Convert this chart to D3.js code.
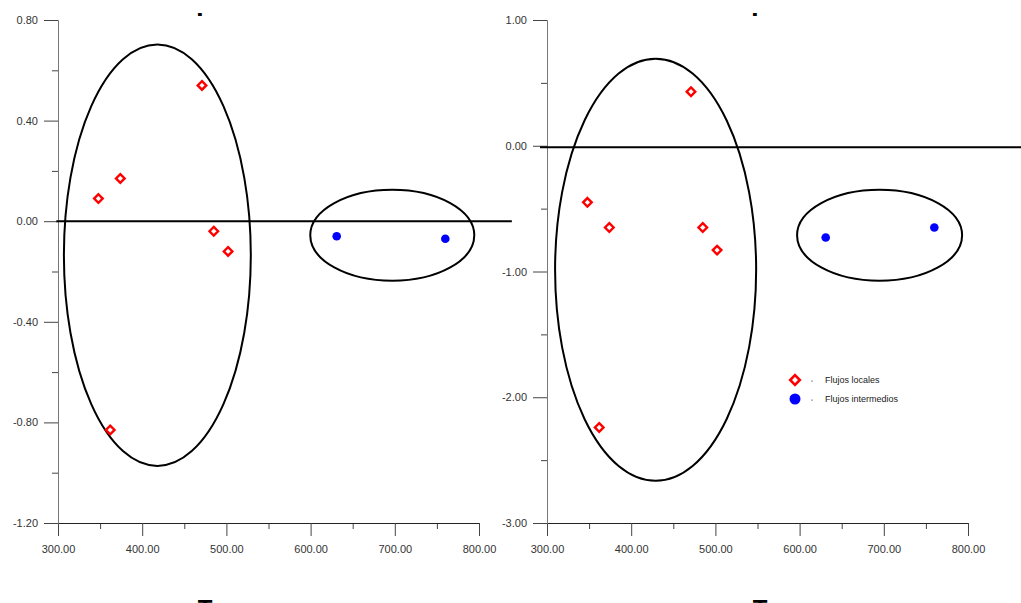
<!DOCTYPE html>
<html><head><meta charset="utf-8">
<script src="https://cdn.jsdelivr.net/npm/d3@7"></script>
<style>
html,body{margin:0;padding:0;background:#fff;overflow:hidden}
svg{display:block}
text{font-family:"Liberation Sans",Arial,sans-serif}
</style></head><body>
<script>
// ---- data ----
const localX = [348, 374, 471, 485, 502, 362];
const localYLeft = [0.09, 0.17, 0.54, -0.04, -0.12, -0.83];
const localYRight = [-0.45, -0.65, 0.43, -0.65, -0.83, -2.24];
const interX = [631, 760];
const interYLeft = [-0.06, -0.07];
const interYRight = [-0.73, -0.65];
// ellipses: [cx, cy, rx, ry] in data units
const ellipsesLeft = [[418, -0.135, 111, 0.838], [697, -0.056, 97.4, 0.181]];
const ellipsesRight = [[429, -0.986, 119.4, 1.678], [695, -0.712, 98, 0.362]];
const refLineLeft = [298, 839, 0];
const refLineRight = [291.7, 1000, -0.012];
const xTicks = [300, 400, 500, 600, 700, 800];
const xMinor = [350, 450, 550, 650, 750];
const yTicksLeft = [-1.2, -0.8, -0.4, 0, 0.4, 0.8];
const yMinorLeft = [-1.0, -0.6, -0.2, 0.2, 0.6];
const yTicksRight = [-3, -2, -1, 0, 1];
const yMinorRight = [-2.5, -1.5, -0.5, 0.5];
const legendLabels = ["Flujos locales", "Flujos intermedios"];
const titleTop = "P";
const titleBottom = "T";

const W = 1021, H = 603;
const svg = d3.select("body").append("svg").attr("width", W).attr("height", H);
const fmt = v => v.toFixed(2);

function diamond(g, x, y, r, sw) {
  g.append("path")
    .attr("d", `M${x},${y - r}L${x + r},${y}L${x},${y + r}L${x - r},${y}Z`)
    .attr("fill", "#fff").attr("stroke", "#ff0000").attr("stroke-width", sw);
}

function panel(opts) {
  const g = svg.append("g");
  const x = d3.scaleLinear().domain([300, 800]).range(opts.xr);
  const y = d3.scaleLinear().domain(opts.yd).range([523, 20]);

  // x axis
  const xa = g.append("g").attr("transform", `translate(0,${y(opts.yd[0])})`);
  xa.call(d3.axisBottom(x).tickValues(xMinor).tickSize(6).tickSizeOuter(0).tickFormat(""));
  xa.append("g").call(d3.axisBottom(x).tickValues(xTicks).tickSize(13).tickSizeOuter(0).tickPadding(9).tickFormat(fmt));
  xa.selectAll("path.domain").attr("stroke", "#222");
  xa.selectAll(".tick line").attr("stroke", "#444");
  xa.selectAll("text").attr("font-size", 11).attr("fill", "#333").attr("font-family", "Liberation Sans, Arial, sans-serif");

  // y axis
  const ya = g.append("g").attr("transform", `translate(${x(300)},0)`);
  ya.call(d3.axisLeft(y).tickValues(opts.yMinor).tickSize(6).tickSizeOuter(0).tickFormat(""));
  ya.append("g").call(d3.axisLeft(y).tickValues(opts.yTicks).tickSize(14).tickSizeOuter(0).tickPadding(6).tickFormat(fmt));
  ya.selectAll("path.domain").attr("stroke", "#777");
  ya.selectAll(".tick line").attr("stroke", "#444");
  ya.selectAll("text").attr("font-size", 11).attr("fill", "#333").attr("font-family", "Liberation Sans, Arial, sans-serif");

  // reference line
  g.append("line")
    .attr("x1", x(opts.ref[0])).attr("x2", Math.min(W, x(opts.ref[1])))
    .attr("y1", y(opts.ref[2])).attr("y2", y(opts.ref[2]))
    .attr("stroke", "#000").attr("stroke-width", 2);

  // ellipses
  opts.ell.forEach(e => {
    g.append("ellipse")
      .attr("cx", x(e[0])).attr("cy", y(e[1]))
      .attr("rx", x(e[0] + e[2]) - x(e[0]))
      .attr("ry", y(e[1] - e[3]) - y(e[1]))
      .attr("fill", "none").attr("stroke", "#000").attr("stroke-width", 2);
  });

  // points
  localX.forEach((v, i) => diamond(g, x(v), y(opts.ly[i]), 4.3, 2.4));
  interX.forEach((v, i) => {
    g.append("circle").attr("cx", x(v)).attr("cy", y(opts.iy[i])).attr("r", 4.3).attr("fill", "#0000ff");
  });

  // clipped titles (cut off at the edges as in the original)
  const cx = opts.titleX;
  const clipId = "clip" + opts.id;
  svg.append("clipPath").attr("id", clipId).append("rect")
    .attr("x", cx - 30).attr("y", 13).attr("width", 60).attr("height", 10);
  svg.append("text").attr("x", cx).attr("y", 16).attr("text-anchor", "middle")
    .attr("clip-path", `url(#${clipId})`)
    .attr("font-family", "Liberation Serif, Times New Roman, serif")
    .attr("font-weight", "bold").attr("font-size", 26).text(titleTop);
  svg.append("text").attr("x", cx).attr("y", 617).attr("text-anchor", "middle")
    .attr("font-family", "Liberation Serif, Times New Roman, serif")
    .attr("font-weight", "bold").attr("font-size", 24).text(titleBottom);
  return {x, y, g};
}

panel({id: "L", xr: [58, 479], yd: [-1.2, 0.8], yTicks: yTicksLeft, yMinor: yMinorLeft,
  ref: refLineLeft, ell: ellipsesLeft, ly: localYLeft, iy: interYLeft, titleX: 205});
panel({id: "R", xr: [547, 968], yd: [-3, 1], yTicks: yTicksRight, yMinor: yMinorRight,
  ref: refLineRight, ell: ellipsesRight, ly: localYRight, iy: interYRight, titleX: 760});

// legend
const lg = svg.append("g").attr("transform", "translate(795,380)");
legendLabels.forEach((t, i) => {
  const yy = i * 19;
  if (i === 0) diamond(lg, 0, yy, 4.8, 2.6);
  else lg.append("circle").attr("cx", 0).attr("cy", yy).attr("r", 5.5).attr("fill", "#0000ff");
  lg.append("circle").attr("cx", 17).attr("cy", yy + 1).attr("r", 0.6).attr("fill", "#000");
  lg.append("text").attr("x", 30).attr("y", yy).attr("dy", "0.35em")
    .attr("font-size", 9).attr("fill", "#222").text(t);
});
</script>
</body></html>
